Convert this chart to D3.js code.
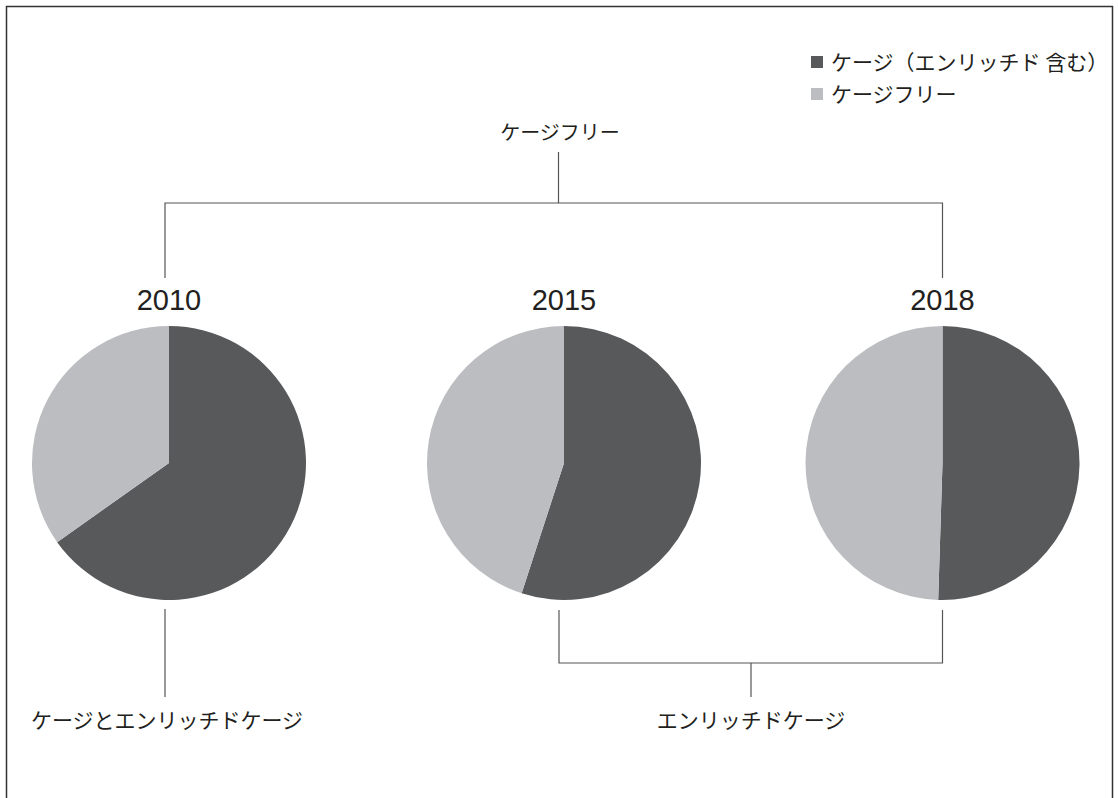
<!DOCTYPE html>
<html>
<head>
<meta charset="utf-8">
<script src="https://cdn.jsdelivr.net/npm/d3@7"></script>
<style>
  body { margin: 0; background: #fff; }
  svg text { font-family: "Noto Sans CJK JP", "Noto Sans", sans-serif; fill: #231f20; }
  svg text.year { font-family: "Liberation Sans", Arial, sans-serif; }
</style>
</head>
<body>
<svg id="chart"></svg>
<script>
// data (share of cage housing, %)
const years = ['2010', '2015', '2018'];
const cageShare = [65.2, 55, 50.5];
const seriesNames = ['ケージ（エンリッチド 含む）', 'ケージフリー'];
const seriesColors = ['#58595b', '#bcbdc1'];
const topLabel = 'ケージフリー';
const bottomLabels = ['ケージとエンリッチドケージ', 'エンリッチドケージ'];

const width = 1118, height = 798;
const svg = d3.select('#chart').attr('width', width).attr('height', height);

// frame (no bottom edge, runs off the page)
svg.append('path')
  .attr('d', `M6.5,${height} V6.5 H1112.5 V${height}`)
  .attr('fill', 'none')
  .attr('stroke', '#333')
  .attr('stroke-width', 1.5);

const x = d3.scaleOrdinal().domain(years).range([169, 564, 942.5]);
const cy = 463, radius = 137;

const pie = d3.pie().sort(null);
const arc = d3.arc().innerRadius(0).outerRadius(radius);

years.forEach((yr, i) => {
  const g = svg.append('g').attr('transform', `translate(${x(yr)},${cy})`);
  g.selectAll('path')
    .data(pie([cageShare[i], 100 - cageShare[i]]))
    .enter()
    .append('path')
    .attr('d', arc)
    .attr('fill', (d, j) => seriesColors[j]);

  svg.append('text')
    .attr('class', 'year')
    .attr('x', x(yr))
    .attr('y', 310)
    .attr('text-anchor', 'middle')
    .style('font-size', '29px')
    .text(yr);
});

// connector lines
const lines = svg.append('g')
  .attr('fill', 'none')
  .attr('stroke', '#555')
  .attr('stroke-width', 1.2);

const x0 = x('2010') - 4, x1 = x('2015'), x2 = x('2018');
lines.append('path').attr('d', `M${x0},278 V203 H${x2} V278`);
lines.append('path').attr('d', `M558.5,152 V203`);
lines.append('path').attr('d', `M${x0},609 V697`);
lines.append('path').attr('d', `M${x1 - 5},610 V663 H${x2} V610`);
lines.append('path').attr('d', `M751,663 V697`);

svg.append('text')
  .attr('x', 560).attr('y', 140)
  .attr('text-anchor', 'middle')
  .style('font-size', '20px')
  .text(topLabel);

svg.append('text')
  .attr('x', 167).attr('y', 728)
  .attr('text-anchor', 'middle')
  .style('font-size', '21px')
  .text(bottomLabels[0]);

svg.append('text')
  .attr('x', 751).attr('y', 728)
  .attr('text-anchor', 'middle')
  .style('font-size', '21px')
  .text(bottomLabels[1]);

// legend
const legend = svg.append('g').attr('transform', 'translate(811,56)');
seriesNames.forEach((name, i) => {
  legend.append('rect')
    .attr('x', 0).attr('y', i * 32)
    .attr('width', 12).attr('height', 12)
    .attr('fill', seriesColors[i]);
  legend.append('text')
    .attr('x', 20).attr('y', i * 32 + 14)
    .style('font-size', '21px')
    .text(name);
});
</script>
</body>
</html>
